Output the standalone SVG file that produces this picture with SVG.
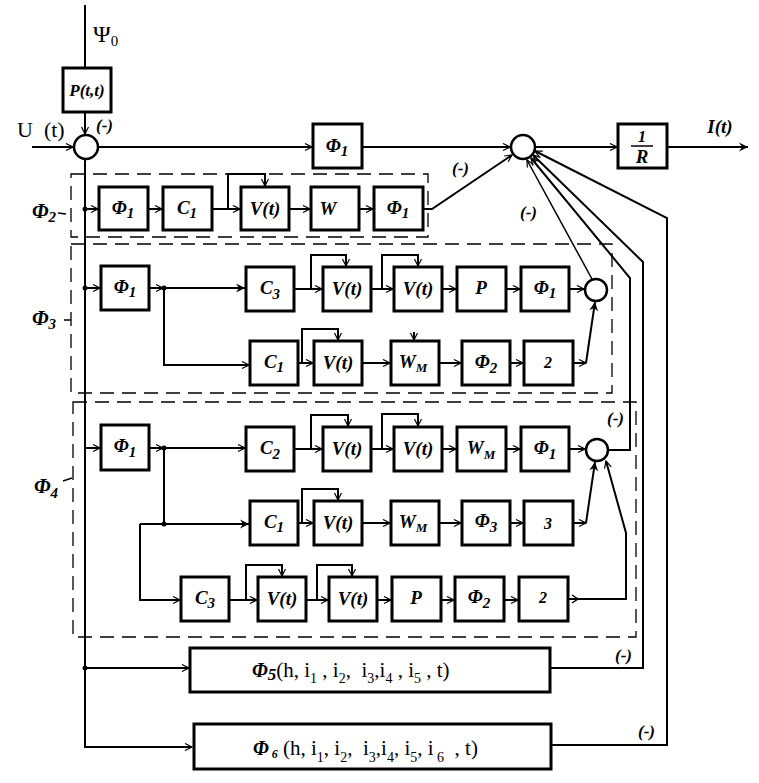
<svg xmlns="http://www.w3.org/2000/svg" width="759" height="783" viewBox="0 0 759 783">
<style>
.b{fill:#fff;stroke:#000;stroke-width:3}
.c{fill:#fff;stroke:#000;stroke-width:2.5}
.l{fill:none;stroke:#000;stroke-width:2}
.k{fill:none;stroke:#000;stroke-width:1.5}
.d{fill:none;stroke:#000;stroke-width:1.3;stroke-dasharray:14 8}
.t{font-family:"Liberation Serif",serif;font-weight:bold;font-style:italic;font-size:19px;text-anchor:middle}
.s{font-size:15px}
.r{font-family:"Liberation Serif",serif;font-size:21px}
.m{font-family:"Liberation Serif",serif;font-weight:bold;font-style:italic;font-size:17px}
</style>
<defs>
<marker id="a" markerWidth="10" markerHeight="10" refX="8" refY="4" orient="auto" markerUnits="userSpaceOnUse"><path d="M1,0.5 L8,4 L1,7.5" fill="none" stroke="#000" stroke-width="1.2"/></marker>
<marker id="f" markerWidth="12" markerHeight="12" refX="9" refY="5" orient="auto" markerUnits="userSpaceOnUse"><path d="M0,0.5 L9,5 L0,9.5 L3,5 Z" fill="#000"/></marker>
</defs>
<rect width="759" height="783" fill="#fff"/>

<g id="groups">
<rect class="d" x="71" y="174" width="357" height="63"/>
<rect class="d" x="71" y="244" width="541" height="149"/>
<rect class="d" x="73" y="402" width="563" height="235"/>
<text class="t" x="44" y="218" style="font-size:21px">Φ<tspan class="s" dy="4">2</tspan></text>
<text class="t" x="44" y="325" style="font-size:21px">Φ<tspan class="s" dy="4">3</tspan></text>
<text class="t" x="46" y="493" style="font-size:21px">Φ<tspan class="s" dy="5">4</tspan></text>
<path class="k" d="M58,213 L66,214 M64,320 L71,320 M63,481 L72,478"/>
</g>

<g id="connectors">
<path class="l" d="M85,5 V68"/>
<path class="l" d="M85,112 V134" marker-end="url(#a)"/>
<path class="l" d="M32,147 H73" marker-end="url(#a)"/>
<path class="l" d="M98,147 H312" marker-end="url(#a)"/>
<path class="l" d="M362,147 H510" marker-end="url(#a)"/>
<path class="l" d="M535,147 H617" marker-end="url(#a)"/>
<path class="l" d="M667,147 H748" marker-end="url(#f)"/>
<path class="l" d="M85,159 V747 H192" marker-end="url(#a)"/>
<path class="l" d="M85,209 H98" marker-end="url(#a)"/>
<path class="l" d="M148,209 H162" marker-end="url(#a)"/>
<path class="l" d="M212,209 H240" marker-end="url(#a)"/>
<path class="l" d="M228,209 V174 H265 V186" marker-end="url(#a)"/>
<path class="l" d="M289,209 H310" marker-end="url(#a)"/>
<path class="l" d="M359,209 H373" marker-end="url(#a)"/>
<path class="l" d="M423,209 H432 L512,155" marker-end="url(#a)"/>
<path class="l" d="M85,288 H100" marker-end="url(#a)"/>
<path class="l" d="M149,288 H163" marker-end="url(#a)"/>
<path class="l" d="M164,288 H245" marker-end="url(#f)"/>
<path class="l" d="M164,288 V365 H249" marker-end="url(#a)"/>
<path class="l" d="M294,289 H322" marker-end="url(#a)"/>
<path class="l" d="M311,289 V255 H346 V266" marker-end="url(#a)"/>
<path class="l" d="M371,289 H393" marker-end="url(#a)"/>
<path class="l" d="M382,289 V255 H418 V266" marker-end="url(#a)"/>
<path class="l" d="M442,289 H456" marker-end="url(#a)"/>
<path class="l" d="M506,289 H520" marker-end="url(#a)"/>
<path class="l" d="M569,289 H584" marker-end="url(#a)"/>
<path class="l" d="M298,363 H313" marker-end="url(#a)"/>
<path class="l" d="M302,363 V329 H338 V340" marker-end="url(#a)"/>
<path class="l" d="M362,363 H390" marker-end="url(#a)"/>
<path class="l" d="M414,332 V340" marker-end="url(#a)"/>
<path class="l" d="M439,363 H461" marker-end="url(#a)"/>
<path class="l" d="M510,363 H523" marker-end="url(#a)"/>
<path class="l" d="M573,363 H586" marker-end="url(#a)"/>
<path class="l" d="M586,363 L595,302" marker-end="url(#f)"/>
<path class="k" d="M592,279 L527,160" marker-end="url(#a)"/>
<path class="l" d="M85,448 H100" marker-end="url(#a)"/>
<path class="l" d="M149,448 H163" marker-end="url(#a)"/>
<path class="l" d="M164,448 H245" marker-end="url(#a)"/>
<path class="l" d="M164,448 V524"/>
<path class="l" d="M140,524 H249" marker-end="url(#f)"/>
<path class="l" d="M140,524 V600 H180" marker-end="url(#a)"/>
<path class="l" d="M294,449 H322" marker-end="url(#a)"/>
<path class="l" d="M311,449 V415 H348 V426" marker-end="url(#a)"/>
<path class="l" d="M371,449 H393" marker-end="url(#a)"/>
<path class="l" d="M382,449 V414 H418 V426" marker-end="url(#a)"/>
<path class="l" d="M442,449 H456" marker-end="url(#a)"/>
<path class="l" d="M506,449 H520" marker-end="url(#a)"/>
<path class="l" d="M569,449 H585" marker-end="url(#a)"/>
<path class="l" d="M298,523 H313" marker-end="url(#a)"/>
<path class="l" d="M302,523 V489 H338 V500" marker-end="url(#a)"/>
<path class="l" d="M362,523 H390" marker-end="url(#a)"/>
<path class="l" d="M439,523 H461" marker-end="url(#a)"/>
<path class="l" d="M510,523 H523" marker-end="url(#a)"/>
<path class="l" d="M573,523 H586" marker-end="url(#a)"/>
<path class="l" d="M586,523 L595,462" marker-end="url(#f)"/>
<path class="l" d="M229,600 H257" marker-end="url(#a)"/>
<path class="l" d="M246,600 V565 H282 V576" marker-end="url(#a)"/>
<path class="l" d="M306,600 H328" marker-end="url(#a)"/>
<path class="l" d="M317,600 V565 H352 V576" marker-end="url(#a)"/>
<path class="l" d="M377,600 H391" marker-end="url(#a)"/>
<path class="l" d="M441,600 H454" marker-end="url(#a)"/>
<path class="l" d="M504,600 H518" marker-end="url(#a)"/>
<path class="l" d="M568,599 H626 V533 L606,461" marker-end="url(#a)"/>
<path class="k" d="M572,595 L578,599 L572,603"/>
<path class="l" d="M608,450 H630 V278 L531,158" marker-end="url(#a)"/>
<path class="l" d="M85,668 H189" marker-end="url(#a)"/>
<path class="l" d="M550,668 H643 V262 L533,155" marker-end="url(#a)"/>
<path class="l" d="M551,745 H667 V218 L535,151" marker-end="url(#a)"/>
<circle cx="85" cy="209" r="2.5"/>
<circle cx="85" cy="288" r="2.5"/>
<circle cx="164" cy="288" r="2.5"/>
<circle cx="164" cy="448" r="2.5"/>
<circle cx="164" cy="524" r="2.5"/>
<circle cx="85" cy="668" r="2.5"/>
</g>

<g id="labels">
<text class="r" x="93" y="42" style="font-size:24px">Ψ<tspan style="font-size:15px" dy="4">0</tspan></text>
<text class="r" x="17" y="137" style="font-size:22px" xml:space="preserve">U  (t)</text>
<text class="m" x="96" y="131">(-)</text>
<text class="m" x="452" y="174">(-)</text>
<text class="m" x="520" y="218">(-)</text>
<text class="m" x="607" y="424">(-)</text>
<text class="m" x="615" y="661">(-)</text>
<text class="m" x="638" y="737">(-)</text>
<text class="t" x="720" y="133">I(t)</text>
</g>

<g id="n_ptt"><rect class="b" x="63" y="68" width="48" height="44"/><text class="t" x="87" y="96" style="font-size:17px">P(t,t)</text></g>
<g id="sum0"><circle class="c" cx="86" cy="147" r="12"/></g>
<g id="n_phi1_top"><rect class="b" x="313" y="124" width="49" height="44"/><text class="t" x="337" y="152">Φ<tspan class="s" dy="4">1</tspan></text></g>
<g id="sum_main"><circle class="c" cx="523" cy="147" r="12"/></g>
<g id="n_1r"><rect class="b" x="618" y="124" width="49" height="44"/><text class="t" x="642" y="142" style="font-size:16px">1</text><line x1="631" y1="146" x2="653" y2="146" stroke="#000" stroke-width="1.5"/><text class="t" x="642" y="163">R</text></g>

<g id="n2_phi1"><rect class="b" x="99" y="187" width="49" height="43"/><text class="t" x="123" y="214">Φ<tspan class="s" dy="4">1</tspan></text></g>
<g id="n2_c1"><rect class="b" x="163" y="187" width="49" height="43"/><text class="t" x="187" y="214">C<tspan class="s" dy="4">1</tspan></text></g>
<g id="n2_v"><rect class="b" x="241" y="187" width="48" height="43"/><text class="t" x="265" y="215">V(t)</text></g>
<g id="n2_w"><rect class="b" x="311" y="187" width="48" height="43"/><text class="t" x="328" y="215">W</text></g>
<g id="n2_phi1b"><rect class="b" x="374" y="187" width="49" height="43"/><text class="t" x="398" y="214">Φ<tspan class="s" dy="4">1</tspan></text></g>

<g id="n3_phi1"><rect class="b" x="101" y="266" width="48" height="44"/><text class="t" x="125" y="293">Φ<tspan class="s" dy="4">1</tspan></text></g>
<g id="n3_c3"><rect class="b" x="246" y="267" width="48" height="44"/><text class="t" x="270" y="294">C<tspan class="s" dy="5">3</tspan></text></g>
<g id="n3_v1"><rect class="b" x="323" y="267" width="48" height="44"/><text class="t" x="347" y="295">V(t)</text></g>
<g id="n3_v2"><rect class="b" x="394" y="267" width="48" height="44"/><text class="t" x="418" y="295">V(t)</text></g>
<g id="n3_p"><rect class="b" x="457" y="267" width="49" height="44"/><text class="t" x="481" y="294">P</text></g>
<g id="n3_phi1b"><rect class="b" x="521" y="267" width="48" height="44"/><text class="t" x="545" y="294">Φ<tspan class="s" dy="4">1</tspan></text></g>
<g id="sum3"><circle class="c" cx="596" cy="290" r="11"/></g>
<g id="n3_c1"><rect class="b" x="250" y="341" width="48" height="44"/><text class="t" x="274" y="368">C<tspan class="s" dy="4">1</tspan></text></g>
<g id="n3_v3"><rect class="b" x="314" y="341" width="48" height="44"/><text class="t" x="338" y="369">V(t)</text></g>
<g id="n3_wm"><rect class="b" x="391" y="341" width="48" height="44"/><text class="t" x="413" y="368">W<tspan style="font-size:13px" dy="4">M</tspan></text></g>
<g id="n3_phi2"><rect class="b" x="462" y="341" width="48" height="44"/><text class="t" x="486" y="368">Φ<tspan class="s" dy="5">2</tspan></text></g>
<g id="n3_two"><rect class="b" x="524" y="341" width="49" height="44"/><text class="t" x="548" y="368" style="font-size:16px">2</text></g>

<g id="n4_phi1"><rect class="b" x="101" y="425" width="48" height="45"/><text class="t" x="125" y="452">Φ<tspan class="s" dy="5">1</tspan></text></g>
<g id="n4_c2"><rect class="b" x="246" y="427" width="48" height="44"/><text class="t" x="270" y="454">C<tspan class="s" dy="5">2</tspan></text></g>
<g id="n4_v1"><rect class="b" x="323" y="427" width="48" height="44"/><text class="t" x="347" y="455">V(t)</text></g>
<g id="n4_v2"><rect class="b" x="394" y="427" width="48" height="44"/><text class="t" x="418" y="455">V(t)</text></g>
<g id="n4_wm"><rect class="b" x="457" y="427" width="49" height="44"/><text class="t" x="481" y="454">W<tspan style="font-size:13px" dy="5">M</tspan></text></g>
<g id="n4_phi1b"><rect class="b" x="521" y="427" width="48" height="44"/><text class="t" x="545" y="454">Φ<tspan class="s" dy="5">1</tspan></text></g>
<g id="sum4"><circle class="c" cx="597" cy="450" r="11"/></g>
<g id="n4_c1"><rect class="b" x="250" y="501" width="48" height="44"/><text class="t" x="274" y="528">C<tspan class="s" dy="4">1</tspan></text></g>
<g id="n4_v3"><rect class="b" x="314" y="501" width="48" height="44"/><text class="t" x="338" y="529">V(t)</text></g>
<g id="n4_wm2"><rect class="b" x="391" y="501" width="48" height="44"/><text class="t" x="413" y="528">W<tspan style="font-size:13px" dy="4">M</tspan></text></g>
<g id="n4_phi3"><rect class="b" x="462" y="501" width="48" height="44"/><text class="t" x="486" y="527">Φ<tspan class="s" dy="5">3</tspan></text></g>
<g id="n4_three"><rect class="b" x="524" y="501" width="49" height="44"/><text class="t" x="548" y="529" style="font-size:16px">3</text></g>
<g id="n4_c3"><rect class="b" x="181" y="577" width="48" height="44"/><text class="t" x="205" y="604">C<tspan class="s" dy="4">3</tspan></text></g>
<g id="n4_v4"><rect class="b" x="258" y="577" width="48" height="44"/><text class="t" x="282" y="605">V(t)</text></g>
<g id="n4_v5"><rect class="b" x="329" y="577" width="48" height="44"/><text class="t" x="353" y="605">V(t)</text></g>
<g id="n4_p"><rect class="b" x="392" y="577" width="49" height="44"/><text class="t" x="416" y="604">P</text></g>
<g id="n4_phi2"><rect class="b" x="455" y="577" width="49" height="44"/><text class="t" x="479" y="603">Φ<tspan class="s" dy="5">2</tspan></text></g>
<g id="n4_two"><rect class="b" x="519" y="577" width="49" height="44"/><text class="t" x="543" y="603" style="font-size:16px">2</text></g>

<g id="n_phi5"><rect class="b" x="190" y="648" width="360" height="44"/><text class="r" x="252" y="677" xml:space="preserve"><tspan style="font-weight:bold;font-style:italic;font-size:20px">Φ</tspan><tspan style="font-weight:bold;font-style:italic;font-size:17px" dy="3">5</tspan><tspan dy="-3">(h, i</tspan><tspan style="font-size:14px" dy="6">1</tspan><tspan dy="-6"> , i</tspan><tspan style="font-size:14px" dy="6">2</tspan><tspan dy="-6">,  i</tspan><tspan style="font-size:14px" dy="6">3</tspan><tspan dy="-6">,i</tspan><tspan style="font-size:14px" dy="6">4</tspan><tspan dy="-6"> , i</tspan><tspan style="font-size:14px" dy="6">5</tspan><tspan dy="-6"> , t)</tspan></text></g>
<g id="n_phi6"><rect class="b" x="194" y="724" width="357" height="45"/><text class="r" x="253" y="755" xml:space="preserve"><tspan style="font-weight:bold;font-style:italic;font-size:20px">Φ</tspan><tspan style="font-weight:bold;font-style:italic;font-size:12px" dy="3"> 6</tspan><tspan dy="-3"> (h, i</tspan><tspan style="font-size:14px" dy="7">1</tspan><tspan dy="-7">, i</tspan><tspan style="font-size:14px" dy="7">2</tspan><tspan dy="-7">,  i</tspan><tspan style="font-size:14px" dy="7">3</tspan><tspan dy="-7">,i</tspan><tspan style="font-size:14px" dy="7">4</tspan><tspan dy="-7">, i</tspan><tspan style="font-size:14px" dy="7">5</tspan><tspan dy="-7">, i</tspan><tspan style="font-size:14px" dy="7"> 6</tspan><tspan dy="-7">  , t)</tspan></text></g>
</svg>
